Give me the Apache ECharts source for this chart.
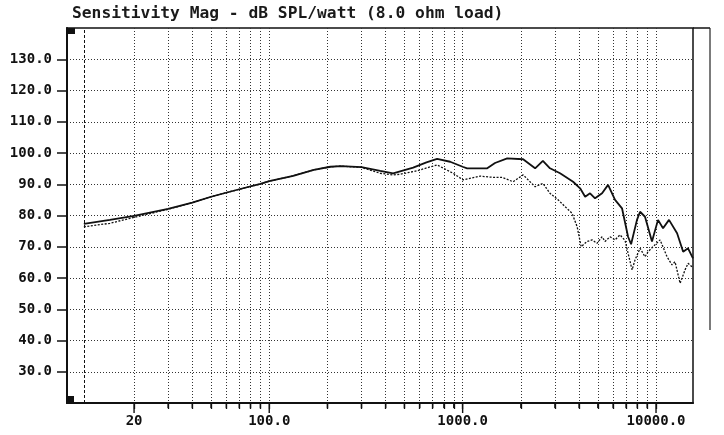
<!DOCTYPE html>
<html>
<head>
<meta charset="utf-8">
<script src="https://cdn.jsdelivr.net/npm/echarts@6/dist/echarts.min.js"></script>
<style>
  html, body { margin: 0; padding: 0; background: #fff; }
  #chart { width: 724px; height: 435px; }
</style>
</head>
<body>
<div id="chart"></div>
<script>
// frequency (Hz) / level (dB SPL) pairs
const solidFreq = [11, 15, 20, 30, 40, 50, 70, 90, 100, 133, 170, 207, 235, 300, 375, 437, 555, 650, 738, 862, 1000, 1055, 1340, 1470, 1700, 2055, 2370, 2600, 2830, 3190, 3725, 4050, 4300, 4560, 4840, 5260, 5650, 6140, 6670, 7170, 7430, 7970, 8270, 8770, 9530, 10240, 10870, 11670, 12850, 13810, 14640, 15530]
const solidDb = [77.3, 78.6, 79.9, 82.1, 84.1, 86.0, 88.4, 90.1, 91.0, 92.7, 94.6, 95.6, 95.8, 95.5, 94.3, 93.5, 95.3, 97.0, 98.1, 97.2, 95.6, 95.1, 95.1, 96.8, 98.3, 98.0, 95.1, 97.5, 95.1, 93.5, 90.8, 88.7, 86.0, 87.1, 85.5, 87.1, 89.8, 85.0, 82.3, 73.2, 70.8, 78.6, 81.2, 79.6, 71.7, 78.6, 75.9, 78.6, 74.3, 68.4, 69.5, 66.3]

const dottedFreq = [11, 15, 20, 30, 40, 50, 70, 90, 100, 133, 170, 207, 235, 300, 375, 437, 475, 580, 738, 893, 1006, 1232, 1438, 1600, 1824, 2055, 2370, 2600, 2830, 3120, 3390, 3680, 3910, 4100, 4400, 4670, 4950, 5260, 5450, 5780, 6140, 6510, 6920, 7170, 7520, 7790, 8270, 8770, 9090, 9640, 10490, 11400, 12100, 12540, 13320, 14130, 14640, 15350]
const dottedDb = [76.4, 77.5, 79.4, 82.0, 84.1, 86.0, 88.4, 90.1, 91.0, 92.7, 94.6, 95.6, 95.8, 95.4, 93.5, 93.0, 93.2, 94.3, 96.2, 93.5, 91.4, 92.6, 92.2, 92.2, 90.8, 93.0, 89.2, 90.3, 87.1, 85.0, 82.8, 80.7, 76.4, 70.0, 71.7, 72.2, 71.1, 73.2, 71.7, 73.2, 72.2, 73.8, 72.0, 67.9, 62.6, 65.8, 69.5, 66.8, 68.4, 70.0, 72.2, 66.8, 64.2, 65.2, 58.3, 62.6, 64.7, 63.6]

// axis ticks and labels
const majorFreq = [20, 100, 1000, 10000]
const gridFreq = [20, 30, 40, 50, 60, 70, 80, 90, 100, 200, 300, 400, 500, 600, 700, 800, 900, 1000,
  2000, 3000, 4000, 5000, 6000, 7000, 8000, 9000, 10000]
const levelTicks = [30, 40, 50, 60, 70, 80, 90, 100, 110, 120, 130]
const cursorFreq = 11
const titleText = 'Sensitivity Mag - dB SPL/watt (8.0 ohm load)'

const yMin = 20
const zip = (xs, ys) => xs.map((x, i) => [x, ys[i]])

const mono = 'DejaVu Sans Mono'
const chart = echarts.init(document.getElementById('chart'))

// log-axis ticks don't render in this build, so the bottom tick marks are a small custom series
function renderTick(params, api) {
  const f = api.value(0)
  const p = api.coord([f, yMin])
  const len = majorFreq.indexOf(f) >= 0 ? 10 : 5
  return {
    type: 'line',
    shape: { x1: p[0], y1: p[1], x2: p[0], y2: p[1] + len },
    style: { stroke: '#111', lineWidth: 1.4 }
  }
}

const option = {
  animation: false,
  backgroundColor: '#fff',
  title: {
    text: titleText,
    left: 72,
    top: 6,
    padding: 0,
    textStyle: { fontFamily: mono, fontSize: 16.3, fontWeight: 'bold', color: '#1a1a1a' }
  },
  grid: {
    left: 67, right: 31, top: 28, bottom: 32,
    show: true, borderColor: '#111', borderWidth: 1.5
  },
  xAxis: {
    type: 'log',
    min: 9,
    max: 15530,
    position: 'bottom',
    axisLine: { show: true, lineStyle: { color: '#111', width: 2 } },
    axisTick: { show: true, customValues: gridFreq, length: 6, lineStyle: { color: '#111', width: 1.3 } },
    axisLabel: {
      customValues: gridFreq,
      margin: 11,
      fontFamily: mono, fontSize: 14, fontWeight: 'bold', color: '#111',
      formatter: v => (majorFreq.indexOf(v) < 0 ? '' : v === 20 ? '20' : Number(v).toFixed(1))
    },
    splitLine: { show: true, lineStyle: { color: '#333', width: 1, type: [1, 2] } }
  },
  yAxis: {
    type: 'value',
    min: yMin,
    max: 140,
    interval: 10,
    axisLine: { show: true, lineStyle: { color: '#111', width: 2 } },
    axisTick: { show: true, customValues: levelTicks, length: 10, lineStyle: { color: '#111', width: 1.5 } },
    axisLabel: {
      customValues: levelTicks,
      margin: 15,
      fontFamily: mono, fontSize: 14, fontWeight: 'bold', color: '#111',
      formatter: v => Number(v).toFixed(1)
    },
    splitLine: { show: true, lineStyle: { color: '#333', width: 1, type: [1, 2] } }
  },
  series: [{
    name: 'dotted',
    type: 'line',
    data: zip(dottedFreq, dottedDb),
    showSymbol: false,
    symbol: 'none',
    z: 3,
    lineStyle: { color: '#111', width: 1.3, type: [2, 1.5] }
  }, {
    name: 'solid',
    type: 'line',
    data: zip(solidFreq, solidDb),
    showSymbol: false,
    symbol: 'none',
    z: 4,
    lineStyle: { color: '#111', width: 1.8 },
    markLine: {
      silent: true,
      symbol: 'none',
      label: { show: false },
      lineStyle: { color: '#111', width: 1, type: [3, 2] },
      data: [{ xAxis: cursorFreq }]
    }
  }, {
    name: 'ticks',
    type: 'custom',
    silent: true,
    clip: false,
    z: 5,
    data: gridFreq.map(f => [f, yMin]),
    renderItem: renderTick
  }],
  graphic: [
    { type: 'rect', shape: { x: 68, y: 28, width: 7, height: 6 }, style: { fill: '#111' } },
    { type: 'rect', shape: { x: 67, y: 396, width: 7, height: 7 }, style: { fill: '#111' } },
    { type: 'line', shape: { x1: 693, y1: 28, x2: 710, y2: 28 }, style: { stroke: '#111', lineWidth: 1.5 } },
    { type: 'line', shape: { x1: 710, y1: 28, x2: 710, y2: 330 }, style: { stroke: '#222', lineWidth: 1.2 } }
  ]
}

chart.setOption(option)
</script>
</body>
</html>
